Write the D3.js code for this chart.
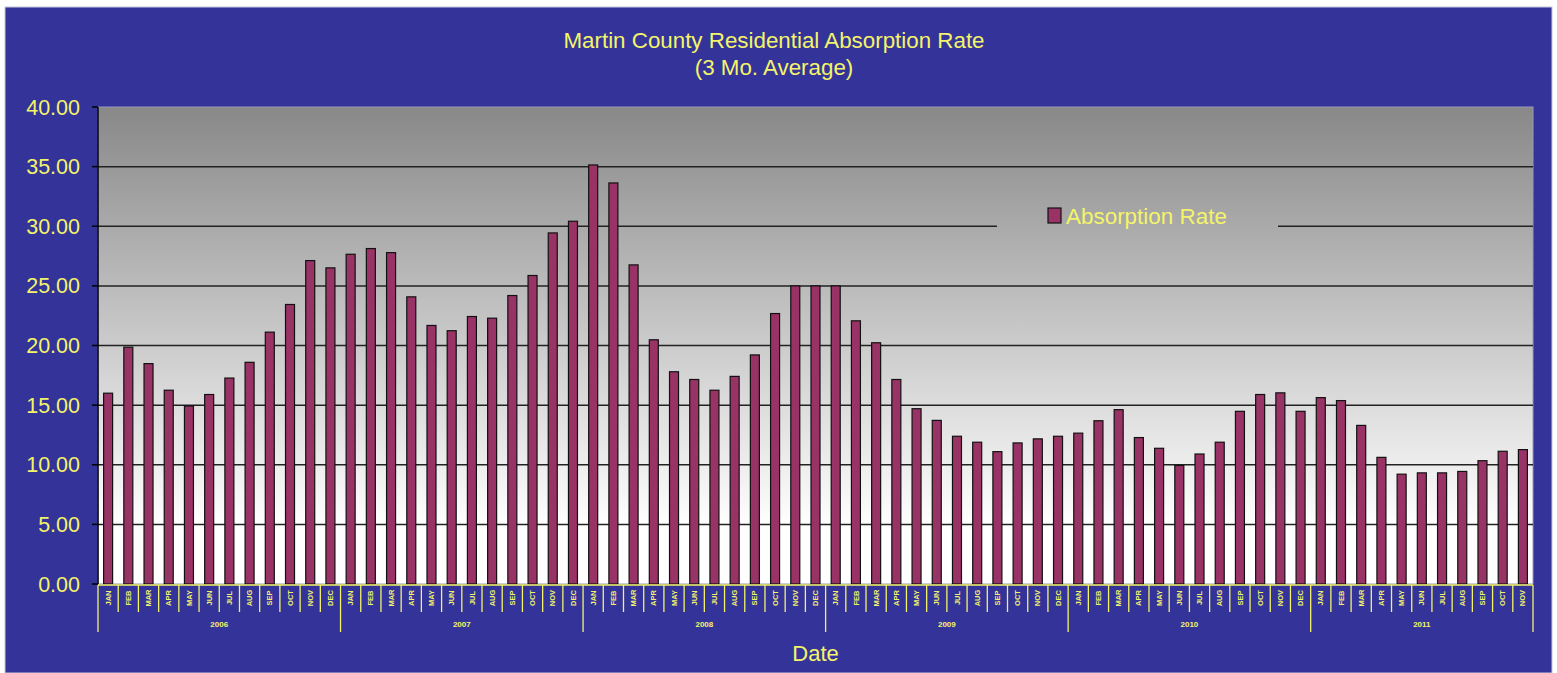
<!DOCTYPE html>
<html>
<head>
<meta charset="utf-8">
<script src="https://cdn.jsdelivr.net/npm/d3@7"></script>
<style>
  html, body { margin: 0; padding: 0; background: #ffffff; }
  svg { display: block; }
  text { font-family: "Liberation Sans", Arial, sans-serif; }
</style>
</head>
<body>
<script>
// ---- data ----
const months = ["JAN","FEB","MAR","APR","MAY","JUN","JUL","AUG","SEP","OCT","NOV","DEC"];
const years = ["2006","2007","2008","2009","2010","2011"];
const rates = [
  16.00, 19.86, 18.48, 16.25, 14.93, 15.89, 17.27, 18.59, 21.12, 23.44, 27.12, 26.51,
  27.65, 28.13, 27.79, 24.08, 21.68, 21.24, 22.43, 22.29, 24.19, 25.87, 29.44, 30.42,
  35.14, 33.63, 26.76, 20.48, 17.80, 17.15, 16.25, 17.41, 19.21, 22.68, 25.00, 25.00,
  25.00, 22.07, 20.23, 17.15, 14.70, 13.72, 12.39, 11.89, 11.10, 11.83, 12.17, 12.39,
  12.65, 13.69, 14.62, 12.28, 11.38,  9.94, 10.90, 11.89, 14.48, 15.89, 16.03, 14.48,
  15.63, 15.38, 13.30, 10.62,  9.21,  9.32,  9.32,  9.44, 10.34, 11.13, 11.27
];
const yTicks = [0, 5, 10, 15, 20, 25, 30, 35, 40];
const titleLines = ["Martin County Residential Absorption Rate", "(3 Mo. Average)"];
const seriesName = "Absorption Rate";
const xTitle = "Date";

// ---- layout ----
const W = 1557, H = 673;
const plot = { left: 98, right: 1533, top: 107, bottom: 584 };
const yellow = "#f4f46a";
const blue = "#333399";
const barColor = "#993366";

const svg = d3.select("body").append("svg").attr("width", W).attr("height", H);
const defs = svg.append("defs");
const grad = defs.append("linearGradient").attr("id", "bg")
  .attr("gradientUnits", "userSpaceOnUse")
  .attr("x1", 0).attr("x2", 0).attr("y1", plot.top).attr("y2", plot.bottom);
grad.append("stop").attr("offset", "0%").attr("stop-color", "#888888");
grad.append("stop").attr("offset", "88%").attr("stop-color", "#ffffff");
grad.append("stop").attr("offset", "100%").attr("stop-color", "#ffffff");

// outer blue background
svg.append("rect").attr("x", 5).attr("y", 7).attr("width", 1547).attr("height", H - 7)
  .attr("fill", blue).attr("stroke", "#c8c8d8").attr("stroke-width", 1);

// plot area
svg.append("rect").attr("x", plot.left).attr("y", plot.top)
  .attr("width", plot.right - plot.left).attr("height", plot.bottom - plot.top)
  .attr("fill", "url(#bg)").attr("stroke", "#9a9ab8").attr("stroke-width", 1);

// scales
const slot = d3.scaleBand().domain(d3.range(rates.length)).range([plot.left, plot.right]).padding(0);
const barW = 9;
const y = d3.scaleLinear().domain([0, 40]).range([plot.bottom, plot.top]);

function label(g, x, yy, str, size, anchor, sx) {
  return g.append("text")
    .attr("transform", `translate(${x},${yy}) scale(${sx || 1},1)`)
    .attr("text-anchor", anchor || "middle")
    .attr("font-size", size)
    .attr("fill", yellow)
    .text(str);
}

// gridlines
svg.append("g").selectAll("line").data(yTicks.filter(t => t > 0 && t < 40)).join("line")
  .attr("x1", plot.left).attr("x2", plot.right)
  .attr("y1", d => y(d)).attr("y2", d => y(d))
  .attr("stroke", "#222222").attr("stroke-width", 1.5);

// legend (box masks gridline)
const lg = svg.append("g");
lg.append("rect").attr("x", 997).attr("y", 196).attr("width", 281).attr("height", 40).attr("fill", "url(#bg)");
lg.append("rect").attr("x", 1048).attr("y", 208).attr("width", 13).attr("height", 15)
  .attr("fill", barColor).attr("stroke", "#111").attr("stroke-width", 1.2);
label(lg, 1066, 224, seriesName, 22, "start", 1.02);

// bars
svg.append("g").selectAll("rect").data(rates).join("rect")
  .attr("x", (d, i) => slot(i) + (slot.bandwidth() - barW) / 2)
  .attr("y", d => y(d))
  .attr("width", barW)
  .attr("height", d => y(0) - y(d))
  .attr("fill", barColor).attr("stroke", "#111111").attr("stroke-width", 1.2);

// y axis
const ya = svg.append("g");
ya.append("line").attr("x1", plot.left).attr("x2", plot.left).attr("y1", plot.top).attr("y2", plot.bottom)
  .attr("stroke", "#000").attr("stroke-width", 1.5);
ya.selectAll("line.tick").data(yTicks).join("line").attr("class", "tick")
  .attr("x1", plot.left - 6).attr("x2", plot.left)
  .attr("y1", d => y(d)).attr("y2", d => y(d))
  .attr("stroke", "#000").attr("stroke-width", 1.5);
yTicks.forEach(t => label(ya, 80, y(t) + 7.5, d3.format(".2f")(t), 21.5, "end"));

// category axis (months + years)
const xa = svg.append("g");
xa.append("line").attr("x1", plot.left).attr("x2", plot.right).attr("y1", plot.bottom + 1).attr("y2", plot.bottom + 1)
  .attr("stroke", yellow).attr("stroke-width", 1.5);
const edges = d3.range(rates.length + 1).map(i => i < rates.length ? slot(i) : plot.right);
xa.selectAll("line.sep").data(edges).join("line").attr("class", "sep")
  .attr("x1", d => d).attr("x2", d => d)
  .attr("y1", plot.bottom + 1)
  .attr("y2", (d, i) => (i % 12 === 0 || i === rates.length) ? 632 : 612)
  .attr("stroke", yellow).attr("stroke-width", 1.3);
rates.forEach((d, i) => {
  const cx = slot(i) + slot.bandwidth() / 2;
  xa.append("text")
    .attr("transform", `translate(${cx + 2.6},598) rotate(-90)`)
    .attr("text-anchor", "middle")
    .attr("font-size", 7.5).attr("font-weight", "bold")
    .attr("fill", yellow)
    .text(months[i % 12]);
});
years.forEach((yr, k) => {
  const i0 = k * 12, i1 = Math.min(rates.length, (k + 1) * 12);
  const cx = (slot(i0) + (i1 < rates.length ? slot(i1) : plot.right)) / 2;
  xa.append("text").attr("x", cx).attr("y", 627).attr("text-anchor", "middle")
    .attr("font-size", 8).attr("font-weight", "bold").attr("fill", yellow).text(yr);
});

// titles
label(svg, 774, 48, titleLines[0], 21.5, "middle", 1.04);
label(svg, 774, 75, titleLines[1], 21.5, "middle", 1.04);
label(svg, (plot.left + plot.right) / 2, 661, xTitle, 22);
</script>
</body>
</html>
